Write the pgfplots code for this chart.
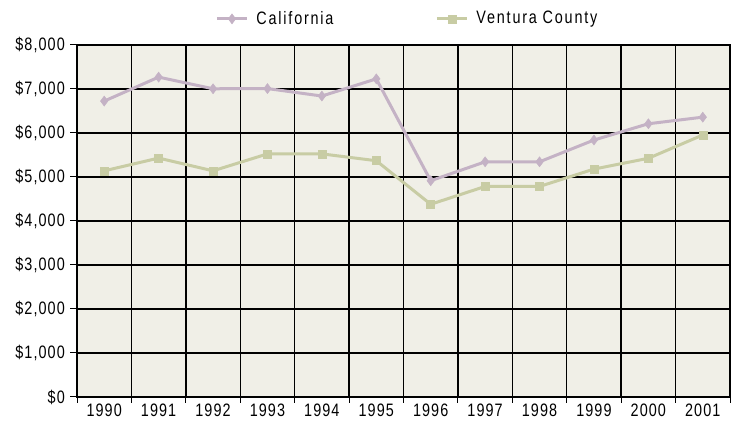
\documentclass[border=0pt]{standalone}
\usepackage{pgfplots}
\pgfplotsset{compat=1.18}
\usepackage{fontspec}
\setmainfont{Liberation Sans}[FakeStretch=0.8,LetterSpace=6]
\newfontfamily\legfont{Liberation Sans}[FakeStretch=0.8,LetterSpace=10]
\definecolor{calif}{RGB}{196,178,197}
\definecolor{vent}{RGB}{200,204,164}
\definecolor{bg}{RGB}{240,239,231}
\begin{document}
\fontsize{18bp}{21bp}\selectfont
\begin{tikzpicture}
\begin{axis}[
  scale only axis,
  width=653bp, height=352bp,
  xmin=-0.5, xmax=11.5,
  ymin=0, ymax=8000,
  axis background/.style={fill=bg},
  axis line style={black, line width=1.5bp},
  xtick={0,...,11},
  xticklabels={1990,1991,1992,1993,1994,1995,1996,1997,1998,1999,2000,2001},
  major x tick style={draw=none},
  minor xtick={-0.5,0.5,...,11.5},
  minor x tick style={black, line width=1bp},
  minor tick length=6bp,
  xminorgrids,
  minor x grid style={black, line width=1.4bp},
  ytick={0,1000,...,8000},
  yticklabel={\$\pgfmathprintnumber{\tick}},
  /pgf/number format/assume math mode=true,
  /pgf/number format/1000 sep={,},
  ymajorgrids,
  major y grid style={black, line width=1.4bp},
  major y tick style={black, line width=1bp},
  major tick length=7bp,
  tick align=outside,
  xtick pos=bottom, ytick pos=left,
  yticklabel style={font=\fontsize{18bp}{21bp}\selectfont, xshift=1bp},
  xticklabel style={font=\fontsize{18bp}{21bp}\selectfont, inner sep=0pt, yshift=0.5bp},
  legend style={at={(0.506,1.04)}, anchor=south, draw=none, fill=none,
    font=\fontsize{18bp}{21bp}\legfont,
    /tikz/every odd column/.append style={column sep=6bp},
    /tikz/every even column/.append style={column sep=100bp}},
  legend columns=2,
  legend image code/.code={\draw[#1] (0bp,0bp) -- (30bp,0bp); \draw[#1, only marks] plot coordinates {(15bp,0bp)};},
  clip=false,
]
\addplot[calif, line width=3bp, mark=diamond*, mark size=5bp, mark options={fill=calif, draw=calif, line width=0.5bp}]
  coordinates {(0,6725) (1,7270) (2,7005) (3,7010) (4,6840) (5,7230) (6,4915) (7,5345) (8,5345) (9,5840) (10,6210) (11,6360)};
\addlegendentry{California}
\addplot[vent, line width=3bp, mark=square*, mark size=4bp, mark options={fill=vent, draw=vent, line width=0.5bp}]
  coordinates {(0,5140) (1,5430) (2,5140) (3,5525) (4,5525) (5,5370) (6,4380) (7,4785) (8,4785) (9,5180) (10,5425) (11,5955)};
\addlegendentry{Ventura County}
\end{axis}
\pgfresetboundingbox
\useasboundingbox ([shift={(-77bp,-24bp)}]current axis.south west) rectangle ([shift={(5bp,45bp)}]current axis.north east);
\end{tikzpicture}
\end{document}
